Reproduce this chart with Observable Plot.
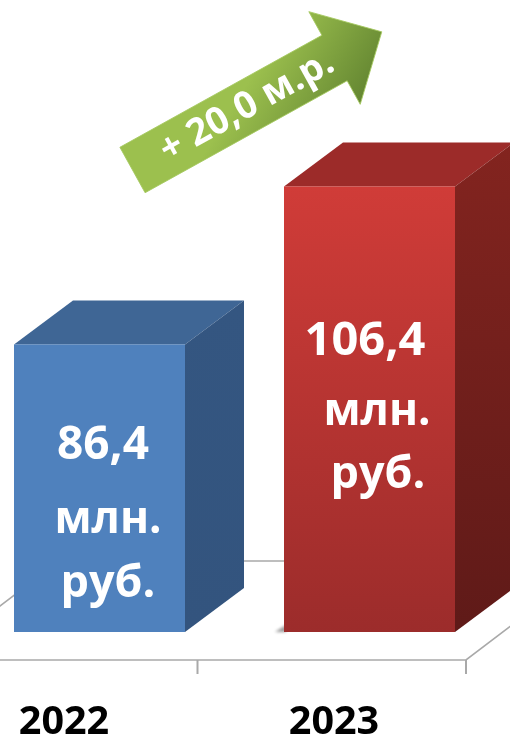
<!DOCTYPE html>
<html><head><meta charset="utf-8">
<style>html,body{margin:0;padding:0;background:#fff}svg{display:block;filter:blur(.6px)}</style>
<script src="https://cdn.jsdelivr.net/npm/d3@7"></script>
<script src="https://cdn.jsdelivr.net/npm/@observablehq/plot@0.6"></script>
</head><body><script>
const years = ["2022", "2023"];
const values = [86.4, 106.4];
const valueLabels = ["86,4", "106,4"];
const unitLine1 = "млн.";
const unitLine2 = "руб.";
const changeLabel = "+ 20,0 м.р.";
const base = 50;
const data = years.map((year, i) => ({year, value: values[i]}));
const font = "'Open Sans', sans-serif";
const depth = [59, -44];
const svgNS = "http://www.w3.org/2000/svg";

function grad(defs, id, stops, x2 = 0, y2 = 1) {
  const g = defs.append("linearGradient").attr("id", id)
    .attr("x1", 0).attr("y1", 0).attr("x2", x2).attr("y2", y2);
  stops.forEach(([o, c]) => g.append("stop").attr("offset", o).attr("stop-color", c));
  return g;
}

const defsMark = () => {
  const svg = d3.select(document.createElementNS(svgNS, "g"));
  const defs = svg.append("defs");
  grad(defs, "front2022", [[0, "#4f81bd"], [1, "#4f81bd"]]);
  grad(defs, "front2023", [[0, "#d03c38"], [1, "#9c2c2b"]]);
  grad(defs, "side2022", [[0, "#345681"], [1, "#33547e"]]);
  grad(defs, "side2023", [[0, "#83241f"], [1, "#5f1a18"]]);
  grad(defs, "arrowFill", [[0, "#9cc04e"], [1, "#5d7f2e"]])
    .attr("gradientUnits", "userSpaceOnUse")
    .attr("x1", 200).attr("y1", -53).attr("x2", 260).attr("y2", 53);
  const f = defs.append("filter").attr("id", "soft").attr("x", "-30%").attr("y", "-30%").attr("width", "160%").attr("height", "160%");
  f.append("feGaussianBlur").attr("stdDeviation", 1.5);
  return svg.node();
};

const floorMark = (index, {x, y}) => {
  const g = d3.select(document.createElementNS(svgNS, "g"))
    .attr("fill", "none").attr("stroke", "#a9a9a9").attr("stroke-width", 1.6);
  const front = y(base) + 28, back = y(base) - 71;
  const right = x(years[1]) + x.bandwidth() + 11;
  const tick = x(years[0]) + x.bandwidth() + 12.5;
  const left = tick - (right - tick);
  const run = 130;
  g.append("path").attr("d", `M${left},${front}L${right},${front}L${right + run},${back}L${left + run},${back}Z`);
  [tick, right].forEach(t => g.append("line").attr("x1", t).attr("x2", t).attr("y1", front).attr("y2", front + 14).attr("stroke-width", 2));
  return g.node();
};

const boxFaces = (index, {x, y}) => {
  const g = d3.select(document.createElementNS(svgNS, "g"));
  const [dx, dy] = depth;
  const l2 = x(years[1]), b0 = y(base);
  g.append("path").attr("fill", "#000").attr("opacity", .4).attr("filter", "url(#soft)")
    .attr("d", `M${l2 - 9},${b0}L${l2 + 2},${b0 - 7}L${l2 + 2},${b0}Z`);
  data.forEach(d => {
    const l = x(d.year), r = l + x.bandwidth(), t = y(d.value), b = y(base);
    g.append("path").attr("fill", d.year === years[0] ? "#3f6695" : "#9c2b29")
      .attr("d", `M${l},${t}L${l + dx},${t + dy}L${r + dx},${t + dy}L${r},${t}Z`);
    g.append("path").attr("fill", `url(#side${d.year})`)
      .attr("d", `M${r},${t}L${r + dx},${t + dy}L${r + dx},${b + dy}L${r},${b}Z`);
  });
  return g.node();
};

const arrowMark = () => {
  const len = 285, hw = 26, head = 54, hhw = 53;
  const g = d3.select(document.createElementNS(svgNS, "g"))
    .attr("transform", "translate(132.5,170) rotate(-29)");
  g.append("path").attr("fill", "url(#arrowFill)").attr("stroke", "#a5c95f").attr("stroke-width", .8)
    .attr("d", `M0,${-hw}L${len - head},${-hw}L${len - head},${-hhw}L${len},0L${len - head},${hhw}L${len - head},${hw}L0,${hw}Z`);
  return g.node();
};

const line = (i, text, dx, dy, fontSize) => Plot.text([data[i]], {
  x: "year", y: "value", text: () => text, dx, dy, fontSize,
  fontFamily: font, fontWeight: 700, fill: "white"
});

const plot = Plot.plot({
  width: 510, height: 734,
  marginTop: 0, marginRight: 0, marginBottom: 30, marginLeft: 0,
  style: {background: "#fff", overflow: "hidden"},
  x: {type: "band", domain: years, range: [13.5, 456.5], paddingInner: .365, paddingOuter: 0, axis: null},
  y: {domain: [base, 110], range: [632, 158], axis: null},
  color: {type: "identity"},
  marks: [
    defsMark,
    floorMark,
    boxFaces,
    Plot.barY(data, {x: "year", y1: () => base, y2: "value", fill: d => `url(#front${d.year})`}),
    Plot.axisX(years, {anchor: "bottom", tickSize: 0, tickPadding: 0, dx: -36, dy: 1, label: null,
      fontSize: 39.5, fontWeight: 700, fontFamily: font, fill: "#000"}),
    line(0, valueLabels[0], 3, 99, 46),
    line(0, unitLine1, 8, 174, 44),
    line(0, unitLine2, 8, 238, 45),
    line(1, valueLabels[1], -5, 153, 47),
    line(1, unitLine1, 7, 224, 44),
    line(1, unitLine2, 8, 287, 45),
    arrowMark,
    Plot.text([changeLabel], {frameAnchor: "top-left", dx: 246, dy: 105, rotate: -29, textAnchor: "middle", lineAnchor: "middle", text: d => d,
      fontSize: 37.5, fontFamily: font, fontWeight: 700, fill: "white"})
  ]
});
document.body.append(plot);
</script></body></html>
